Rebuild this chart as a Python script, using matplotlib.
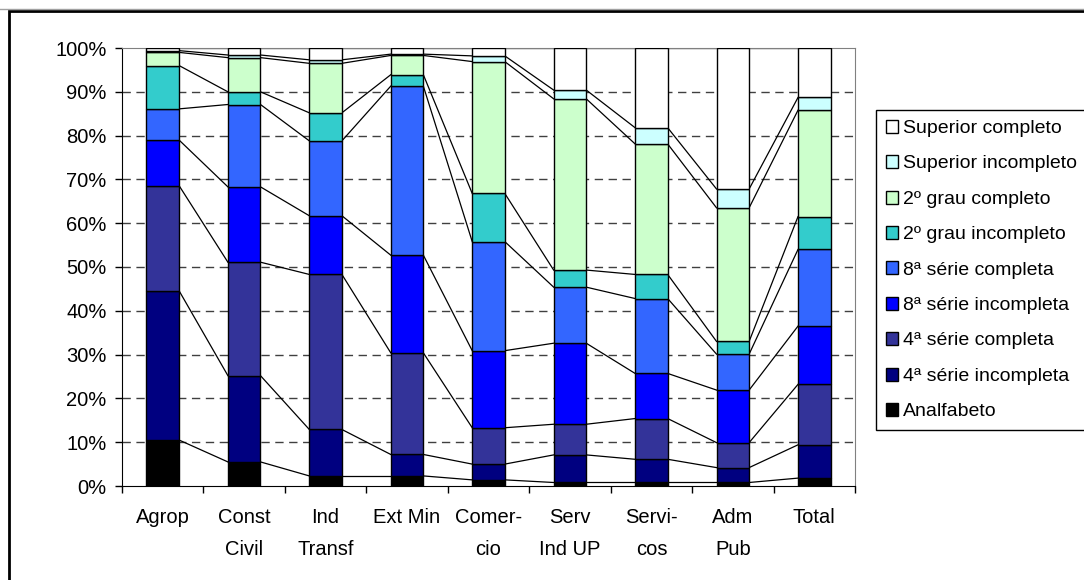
import matplotlib
matplotlib.use("Agg")
import matplotlib.pyplot as plt
from matplotlib.patches import Rectangle, Patch
from matplotlib.lines import Line2D
import numpy as np

plt.rcParams['font.family'] = ['Liberation Sans', 'DejaVu Sans']

categories = ["Agrop", "Const\nCivil", "Ind\nTransf", "Ext Min", "Comer-\ncio",
              "Serv\nInd UP", "Servi-\ncos", "Adm\nPub", "Total"]

series_names = ["Analfabeto", "4ª série incompleta", "4ª série completa",
                "8ª série incompleta", "8ª série completa", "2º grau incompleto",
                "2º grau completo", "Superior incompleto", "Superior completo"]

# share (%) of each schooling level per sector
analfabeto          = [10.5, 5.5, 2.3, 2.3, 1.4, 0.8, 0.8, 0.8, 1.8]
serie4_incompleta   = [34.1, 19.7, 10.6, 4.9, 3.6, 6.3, 5.3, 3.4, 7.6]
serie4_completa     = [24.0, 25.9, 35.4, 23.2, 8.3, 7.0, 9.3, 5.7, 13.8]
serie8_incompleta   = [10.4, 17.2, 13.4, 22.3, 17.6, 18.5, 10.3, 12.0, 13.3]
serie8_completa     = [7.1, 18.8, 17.1, 38.6, 24.9, 12.8, 17.1, 8.2, 17.5]
grau2_incompleto    = [9.9, 2.9, 6.4, 2.6, 11.0, 3.9, 5.5, 2.9, 7.5]
grau2_completo      = [3.0, 7.8, 11.3, 4.4, 30.1, 39.1, 29.8, 30.5, 24.3]
superior_incompleto = [0.4, 0.6, 0.8, 0.3, 1.3, 2.0, 3.7, 4.3, 2.9]
superior_completo   = [0.6, 1.6, 2.7, 1.4, 1.8, 9.6, 18.2, 32.2, 11.3]

yticks = [0, 10, 20, 30, 40, 50, 60, 70, 80, 90, 100]
ytick_labels = [f"{v}%" for v in yticks]

colors = ["#000000", "#000080", "#333399", "#0000FF", "#3366FF",
          "#33CCCC", "#CCFFCC", "#CCFFFF", "#FFFFFF"]

data = np.array([analfabeto, serie4_incompleta, serie4_completa,
                 serie8_incompleta, serie8_completa, grau2_incompleto,
                 grau2_completo, superior_incompleto, superior_completo], dtype=float)
# normalise each column to 100 %
data = data / data.sum(axis=0) * 100

W, H = 1084, 580
fig = plt.figure(figsize=(W / 100, H / 100), dpi=100)
ax = fig.add_axes([122 / W, 1 - 486 / H, (855 - 122) / W, (486 - 48) / H])

x = np.arange(len(categories))
bw = 0.4
bottom = np.zeros(len(categories))
tops = []
for vals, col, name in zip(data, colors, series_names):
    ax.bar(x, vals, bw, bottom=bottom, color=col, edgecolor="black",
           linewidth=1.0, zorder=3, label=name)
    bottom = bottom + vals
    tops.append(bottom.copy())

# series lines joining the top of each segment between neighbouring bars
for t in tops:
    for i in range(len(categories) - 1):
        ax.plot([x[i] + bw / 2, x[i + 1] - bw / 2], [t[i], t[i + 1]],
                color="black", lw=0.9, zorder=2)

ax.set_xlim(-0.5, len(categories) - 0.5)
ax.set_ylim(0, 100)
ax.set_yticks(yticks)
ax.set_yticklabels(ytick_labels, fontsize=14.5)
ax.tick_params(axis="y", direction="out", length=5, width=1, pad=6, colors="black")

# category boundaries carry the ticks, labels sit at the centres
ax.set_xticks(np.arange(-0.5, len(categories), 1.0))
ax.set_xticklabels([])
ax.tick_params(axis="x", which="major", direction="out", length=5, width=1)
ax.set_xticks(x, minor=True)
ax.set_xticklabels(categories, minor=True, fontsize=14.5, linespacing=1.85,
                   va="top")
ax.tick_params(axis="x", which="minor", length=0, pad=16)

for v in yticks[1:-1]:
    ax.axhline(v, color="#404040", lw=1, dashes=(6, 4), zorder=1)

for s in ["top", "right"]:
    ax.spines[s].set_color("#808080")
ax.spines["left"].set_color("black")
ax.spines["bottom"].set_color("black")

handles = [Patch(facecolor=c, edgecolor="black", linewidth=1.0) for c in colors][::-1]
labels = series_names[::-1]
leg = fig.legend(handles, labels, loc="upper left",
                 bbox_to_anchor=(876 / W, 1 - 110 / H),
                 fontsize=14, frameon=True, fancybox=False, framealpha=1,
                 edgecolor="black", borderaxespad=0, borderpad=0.5,
                 labelspacing=0.93, handlelength=0.65, handleheight=0.65,
                 handletextpad=0.25)
leg.get_frame().set_linewidth(1.0)

# outer chart frame
fig.add_artist(Line2D([0, 1], [1 - 9 / H, 1 - 9 / H], transform=fig.transFigure,
                      color="#a0a0a0", lw=1))
fig.add_artist(Rectangle((9 / W, -0.05), 1.2, 1.05 - 11 / H,
                         transform=fig.transFigure, fill=False,
                         edgecolor="black", lw=2))

fig.savefig("out.png", dpi=100)
